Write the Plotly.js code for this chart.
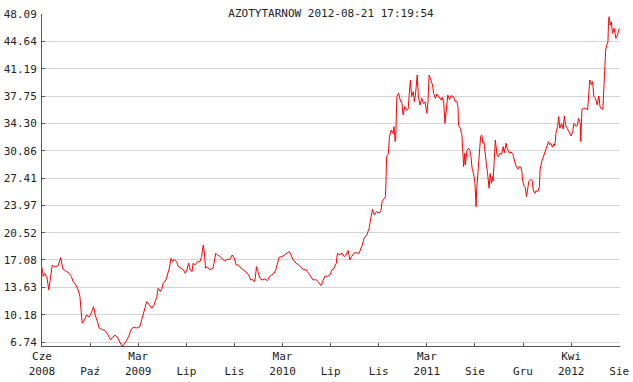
<!DOCTYPE html>
<html>
<head>
<meta charset="utf-8">
<script src="https://cdn.plot.ly/plotly-3.0.1.min.js"></script>
<style>html,body{margin:0;padding:0;background:#fff;}#chart{width:633px;height:382px;}</style>
</head>
<body>
<div id="chart"></div>
<script>
// trading-day index of each sampled point
const dayIndex = [0,2,5,9,12,15,18,23,29,33,37,42,48,52,55,60,64,67,69,71,75,79,83,87,91,94,98,101,105,111,117,121,125,129,133,137,141,145,148,153,157,161,167,173,176,180,185,188,194,198,203,205,209,212,214,219,222,225,228,231,234,238,241,246,250,253,256,259,262,265,267,270,275,279,282,285,287,289,292,297,302,304,307,310,315,319,323,328,332,336,340,343,347,352,356,360,365,369,372,376,379,382,385,389,394,398,402,406,410,413,417,419,424,428,432,437,440,444,449,453,457,462,466,471,475,479,484,488,493,496,500,504,509,512,515,520,522,525,530,534,537,541,544,547,551,556,560,566,569,574,578,581,584,587,591,596,599,601,604,607,609,612,614,617,620,622,624,625,627,630,633,636,638,641,644,647,649,651,653,656,658,660,663,665,668,671,674,677,680,682,684,687,690,692,695,698,702,705,707,710,712,714,717,720,723,727,730,733,735,736,739,742,744,745,747,748,751,754,756,758,760,763,765,767,768,770,772,775,777,779,781,783,785,787,790,792,794,796,797,799,801,804,806,809,812,815,817,820,822,826,829,832,834,837,841,843,846,848,849,852,854,856,858,860,864,866,868,871,873,876,879,880,883,886,889,892,895,897,899,902,904,905,907,908,911,913,915,918,921,923,925,928,932,935,938,940,944,946,948,951,952,954,957,961,964,966,968,971,973,975,978,981,984,986,989,991,993,995,996,998,1000,1001,1002,1004,1006,1008,1011,1014,1017,1019,1021];
const price = [16.1,15.0,15.4,14.8,13.3,15.0,16.4,16.2,16.4,17.4,15.9,15.7,15.4,15.0,14.35,13.9,13.3,12.5,10.8,9.1,9.5,10.15,9.9,10.4,11.2,10.15,9.3,8.5,8.35,8.2,7.6,7.0,7.35,7.6,7.35,6.8,6.25,6.4,6.8,7.4,8.25,8.6,8.5,8.7,9.5,10.6,11.83,11.6,11.0,11.4,12.46,13.5,13.1,13.5,14.15,14.56,15.2,16.04,17.3,16.87,17.17,16.87,16.24,16.04,15.82,15.4,15.82,16.67,15.82,15.6,16.67,16.45,16.87,16.87,17.5,18.97,17.93,16.04,16.24,15.82,16.04,16.67,17.93,17.71,17.5,17.17,17.0,17.17,17.17,17.71,17.3,16.45,16.45,16.04,15.82,15.6,15.2,14.56,14.6,14.35,16.24,15.6,14.77,14.56,14.7,14.46,14.98,15.2,15.4,15.82,17.08,17.42,17.5,17.71,17.93,18.13,17.71,17.08,16.67,16.45,16.24,15.82,15.9,15.4,14.98,14.56,14.6,14.35,13.85,14.35,15.07,15.0,15.2,15.82,15.9,16.67,17.93,17.71,17.93,17.5,17.7,18.26,17.08,17.5,17.93,18.0,17.9,18.97,19.82,20.24,21.08,22.34,23.47,22.76,23.17,23.0,23.38,24.43,24.73,25.06,30.1,30.53,32.63,33.47,33.05,33.89,32.0,32.4,37.67,38.1,37.25,36.83,35.36,36.41,35.99,36.1,38.1,39.77,37.67,38.3,37.04,38.0,40.4,37.67,36.62,37.46,36.83,37.0,35.57,37.0,40.4,39.77,39.14,38.1,37.46,38.0,37.46,37.25,37.6,36.83,34.3,35.78,37.88,37.3,37.8,37.67,37.04,37.1,36.41,34.1,33.68,32.84,30.53,28.84,30.53,29.06,30.95,31.16,30.9,30.1,28.64,27.8,26.75,23.8,25.9,27.8,29.06,32.63,32.84,31.79,31.9,30.1,29.27,28.22,26.12,28.0,26.75,27.58,27.0,29.48,32.21,30.32,30.1,30.53,30.4,31.37,30.6,31.79,31.16,30.53,30.7,30.4,29.9,29.06,28.52,28.84,28.8,28.22,27.17,26.33,26.2,25.06,25.9,26.95,27.25,27.1,25.9,25.49,25.8,25.7,26.33,28.43,29.48,30.1,30.74,31.16,32.0,31.6,31.79,31.3,31.7,31.45,32.0,33.05,33.89,35.15,33.68,34.3,33.6,35.23,34.1,33.68,33.05,32.71,33.38,34.3,33.9,34.1,34.94,34.3,32.0,36.08,36.2,36.2,35.99,38.1,39.77,39.14,39.56,37.67,37.46,36.62,37.75,36.41,36.08,36.1,39.02,41.25,43.55,44.18,44.6,46.92,47.75,46.7,47.12,45.66,46.29,45.03,45.44,46.07,46.29];

const yTickValues = [6.74,10.18,13.63,17.08,20.52,23.97,27.41,30.86,34.30,37.75,41.19,44.64,48.09];
const yTickLabels = ["6.74","10.18","13.63","17.08","20.52","23.97","27.41","30.86","34.30","37.75","41.19","44.64","48.09"];
const xTickValues = [0,85,170,255,340,425,510,595,680,765,850,935,1020];
const xTickLabels = ["Cze<br>2008","\u00a0<br>Paź","Mar<br>2009","\u00a0<br>Lip","\u00a0<br>Lis","Mar<br>2010","\u00a0<br>Lip","\u00a0<br>Lis","Mar<br>2011","\u00a0<br>Sie","\u00a0<br>Gru","Kwi<br>2012","\u00a0<br>Sie"];
const chartTitle = "AZOTYTARNOW 2012-08-21 17:19:54";

const font = {family: "DejaVu Sans Mono, monospace", size: 11, color: "#222"};

Plotly.newPlot("chart", [{
  x: dayIndex, y: price, type: "scatter", mode: "lines",
  line: {color: "#ff0000", width: 1}, hoverinfo: "none"
}], {
  width: 633, height: 382,
  margin: {l: 42, r: 13, t: 14, b: 36, pad: 0},
  paper_bgcolor: "#fff", plot_bgcolor: "#fff",
  showlegend: false,
  font: font,
  title: {text: chartTitle, font: font, x: 0.5, xref: "paper", y: 1 - 13/382, yref: "container", yanchor: "middle"},
  xaxis: {
    range: [0, 1021.3], tickmode: "array", tickvals: xTickValues, ticktext: xTickLabels,
    showgrid: false, zeroline: false, showline: true, linecolor: "#555", linewidth: 1,
    ticks: "inside", ticklen: 3, tickcolor: "#555", tickfont: font
  },
  yaxis: {
    range: [6.236, 48.09], tickmode: "array", tickvals: yTickValues, ticktext: yTickLabels,
    showgrid: true, gridcolor: "#d4d4d4", gridwidth: 1, zeroline: false,
    showline: true, linecolor: "#555", linewidth: 1,
    ticks: "inside", ticklen: 3, tickcolor: "#555", tickfont: font, ticklabelstandoff: 2
  }
}, {staticPlot: true});
</script>
</body>
</html>
